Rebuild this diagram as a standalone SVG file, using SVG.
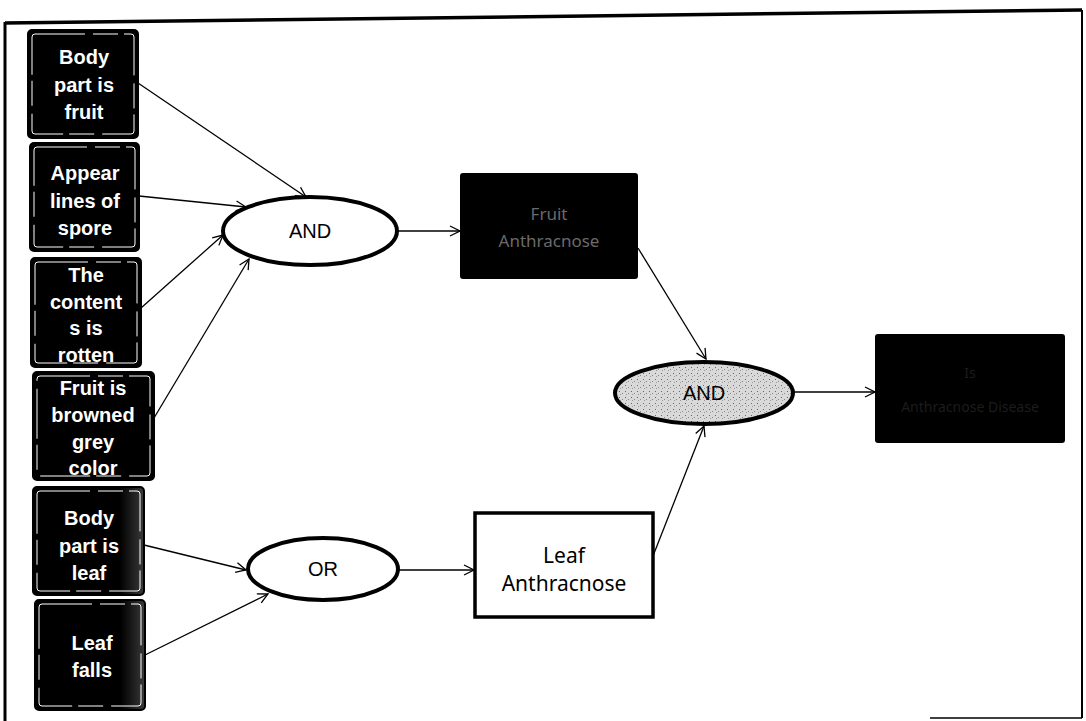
<svg xmlns="http://www.w3.org/2000/svg" width="1086" height="721" viewBox="0 0 1086 721">
  <defs>
    <style>
      .cond rect.bg { fill: #000; stroke: #000; stroke-width: 2; }
      .cond rect.in { fill: none; stroke: #fff; stroke-width: 1; stroke-dasharray: 50 8 25 6; }
      .cond text { fill: #fff; font-family: "Liberation Sans", Arial, sans-serif; font-weight: bold; font-size: 20px; text-anchor: middle; }
      .gate ellipse { stroke: #000; stroke-width: 4; }
      .gate text { fill: #000; font-family: "Liberation Sans", Arial, sans-serif; font-size: 20px; text-anchor: middle; }
      .res text { font-family: "Noto Sans", "Open Sans", sans-serif; font-size: 21px; text-anchor: middle; }
      .res text.dim { font-size: 17px; fill: #6a6a6a; }
      .res text.dark { font-size: 14px; fill: #1c1c1c; }
      .edge { fill: none; stroke: #000; stroke-width: 1.3; marker-end: url(#arr); }
      .frame { fill: none; stroke: #000; }
    </style>
    <marker id="arr" viewBox="0 0 12 12" refX="11" refY="6" markerWidth="12" markerHeight="12" markerUnits="userSpaceOnUse" orient="auto">
      <path d="M1,1 L11,6 L1,11" fill="none" stroke="#000" stroke-width="1.3"/>
    </marker>
    <pattern id="speck" width="6" height="6" patternUnits="userSpaceOnUse">
      <rect width="6" height="6" fill="#d9d9d9"/>
      <rect x="1" y="1" width="1" height="1" fill="#666"/>
      <rect x="4" y="3" width="1" height="1" fill="#888"/>
      <rect x="2" y="4" width="1" height="1" fill="#999"/>
    </pattern>
    <linearGradient id="grainR" x1="0" y1="0" x2="1" y2="0">
      <stop offset="0" stop-color="#000"/>
      <stop offset="0.78" stop-color="#000"/>
      <stop offset="1" stop-color="#3a3a3a"/>
    </linearGradient>
  </defs>

  <!-- frame -->
  <g id="frame">
    <path class="frame" d="M5,23 L1082,10" stroke-width="3.5"/>
    <path class="frame" d="M5,22 L5,721" stroke-width="3"/>
    <path class="frame" d="M1082,10 L1082,718" stroke-width="2"/>
    <path class="frame" d="M930,718 L1082,718" stroke-width="1.5"/>
  </g>

  <!-- connectors -->
  <g id="connectors">
    <path class="edge" d="M138,83 L306,197"/>
    <path class="edge" d="M139,196 L246,207"/>
    <path class="edge" d="M141,308 L223,235"/>
    <path class="edge" d="M154,418 L249,259"/>
    <path class="edge" d="M398,231 L460,231"/>
    <path class="edge" d="M638,248 L706,359"/>
    <path class="edge" d="M653,556 L704,426"/>
    <path class="edge" d="M793,392 L875,392"/>
    <path class="edge" d="M144,545 L246,570"/>
    <path class="edge" d="M145,655 L268,594"/>
    <path class="edge" d="M398,570 L474,570"/>
  </g>

  <!-- condition nodes -->
  <g id="c1" class="cond">
    <rect class="bg" x="28" y="30" width="110" height="108" rx="4"/>
    <rect class="in" x="32" y="34" width="102" height="100" rx="3"/>
    <text x="84" y="64">Body</text>
    <text x="84" y="92">part is</text>
    <text x="84" y="119">fruit</text>
  </g>
  <g id="c2" class="cond">
    <rect class="bg" x="30" y="143" width="109" height="108" rx="4"/>
    <rect class="in" x="34" y="147" width="101" height="100" rx="3"/>
    <text x="85" y="180">Appear</text>
    <text x="85" y="208">lines of</text>
    <text x="85" y="235">spore</text>
  </g>
  <g id="c3" class="cond">
    <rect class="bg" x="31" y="258" width="110" height="109" rx="4"/>
    <rect class="in" x="35" y="262" width="102" height="101" rx="3"/>
    <text x="86" y="282">The</text>
    <text x="86" y="309">content</text>
    <text x="86" y="335">s is</text>
    <text x="86" y="362">rotten</text>
  </g>
  <g id="c4" class="cond">
    <rect class="bg" x="33" y="372" width="121" height="108" rx="4"/>
    <rect class="in" x="37" y="376" width="113" height="100" rx="3"/>
    <text x="93" y="395">Fruit is</text>
    <text x="93" y="422">browned</text>
    <text x="93" y="449">grey</text>
    <text x="93" y="475">color</text>
  </g>
  <g id="c5" class="cond">
    <rect class="bg" x="33" y="487" width="111" height="108" rx="4" style="fill:url(#grainR)"/>
    <rect class="in" x="37" y="491" width="103" height="100" rx="3"/>
    <text x="89" y="525">Body</text>
    <text x="89" y="553">part is</text>
    <text x="89" y="580">leaf</text>
  </g>
  <g id="c6" class="cond">
    <rect class="bg" x="35" y="600" width="110" height="110" rx="4" style="fill:url(#grainR)"/>
    <rect class="in" x="39" y="604" width="102" height="102" rx="3"/>
    <text x="92" y="650">Leaf</text>
    <text x="92" y="677">falls</text>
  </g>

  <!-- gates -->
  <g id="and1" class="gate">
    <ellipse cx="310" cy="231" rx="87" ry="34" fill="#fff"/>
    <text x="310" y="238">AND</text>
  </g>
  <g id="and2" class="gate">
    <ellipse cx="704" cy="393" rx="89" ry="31" fill="url(#speck)"/>
    <text x="704" y="400">AND</text>
  </g>
  <g id="or1" class="gate">
    <ellipse cx="323" cy="569" rx="75" ry="31" fill="#fff"/>
    <text x="323" y="576">OR</text>
  </g>

  <!-- results -->
  <g id="fruit" class="res">
    <rect x="461" y="174" width="176" height="104" fill="#000" stroke="#000" stroke-width="2" rx="2"/>
    <text class="dim" x="549" y="220">Fruit</text>
    <text class="dim" x="549" y="247">Anthracnose</text>
  </g>
  <g id="leaf" class="res">
    <rect x="475" y="513" width="178" height="104" fill="#fff" stroke="#000" stroke-width="3.5"/>
    <text x="564" y="563" fill="#000">Leaf</text>
    <text x="564" y="591" fill="#000">Anthracnose</text>
  </g>
  <g id="final" class="res">
    <rect x="876" y="335" width="188" height="107" fill="#000" stroke="#000" stroke-width="2" rx="2"/>
    <text class="dark" x="970" y="378">Is</text>
    <text class="dark" x="970" y="412">Anthracnose Disease</text>
  </g>
</svg>
